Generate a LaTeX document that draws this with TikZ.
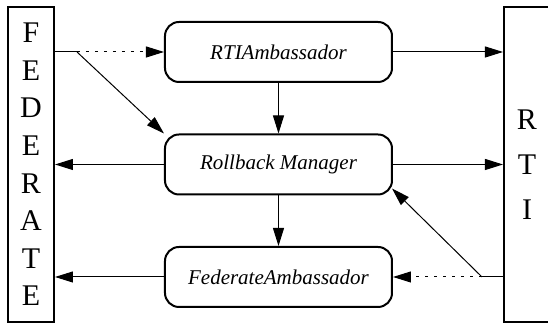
\documentclass[tikz,border=0pt]{standalone}
\usepackage{fontspec}
\setmainfont{Liberation Serif}
\usetikzlibrary{arrows.meta,calc}

\begin{document}
\begin{tikzpicture}[x=0.5pt, y=0.5pt, >={Triangle[length=9pt,width=5.5pt]}, line width=0.5pt]
\tikzstyle{side}=[draw, line width=1pt, minimum width=23pt, minimum height=157.5pt, align=center, inner sep=0pt]
\tikzstyle{module}=[draw, line width=1pt, rounded corners=7pt, minimum width=113.5pt, minimum height=30pt, font=\fontsize{10.5}{12}\selectfont\itshape]
\tikzstyle{dots}=[dash pattern=on 1.5pt off 3pt]
\useasboundingbox (0,0) rectangle (548,324);
\clip (0,0) rectangle (548,324);
\node[side, font=\fontsize{15}{18.8}\selectfont] (federate) at (31,159.5) {F\\E\\D\\E\\R\\A\\T\\E};
\node[side, font=\fontsize{15}{22.5}\selectfont] (rti) at (527,159.5) {R\\T\\I};
\node[module] (rtiamb)   at (278.5,272)   {RTIAmbassador};
\node[module] (rollback) at (278.5,159.5) {Rollback Manager};
\node[module] (fedamb)   at (278.5,47)    {FederateAmbassador};
% split points of the dotted calls
\coordinate (fedsplit) at (77,272);
\coordinate (rtisplit) at (482,47);
\draw (fedsplit -| federate.east) -- (fedsplit);
\draw[->, dots] (fedsplit) -- (rtiamb.west);
\draw[->] (fedsplit) -- (rollback.north west);
\draw (rtisplit -| rti.west) -- (rtisplit);
\draw[->, dots] (rtisplit) -- (fedamb.east);
\draw[->] (rtisplit) -- ($(rollback.south east)+(-1,7)$);
% straight links
\draw[->] (rtiamb.east) -- (rtiamb.east -| rti.west);
\draw[->] (rtiamb.south) -- (rollback.north);
\draw[->] (rollback.west) -- (rollback.west -| federate.east);
\draw[->] (rollback.east) -- (rollback.east -| rti.west);
\draw[->] (rollback.south) -- (fedamb.north);
\draw[->] (fedamb.west) -- (fedamb.west -| federate.east);
\end{tikzpicture}
\end{document}
